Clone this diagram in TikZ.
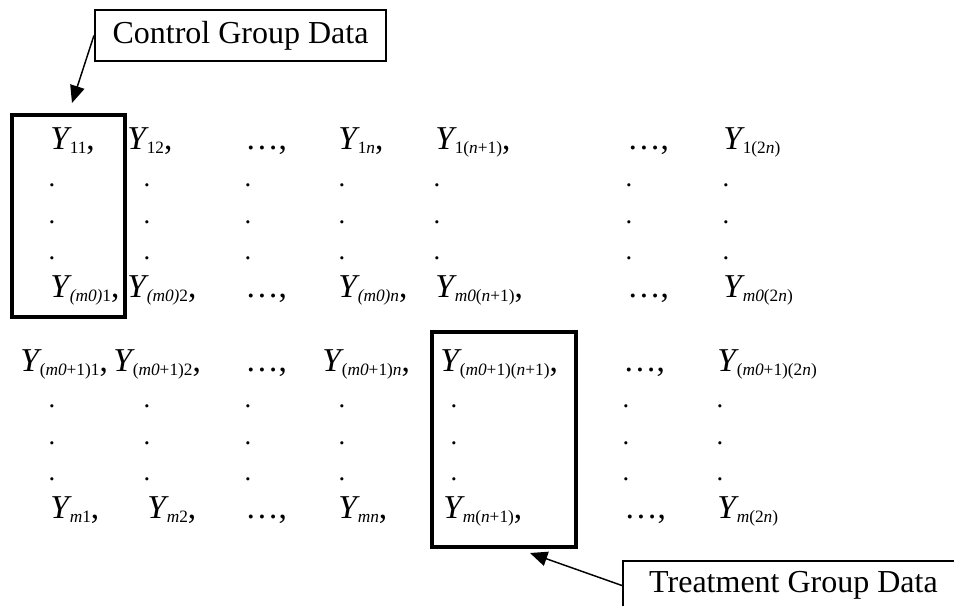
\documentclass[tikz,border=0pt]{standalone}
\usepackage{fontspec}
\setmainfont{Liberation Serif}
\usetikzlibrary{arrows.meta}
\newcommand{\Yv}[1]{\textit{Y}\kern-1.5pt\raisebox{-3pt}{\fontsize{13}{13}\selectfont #1}}
\newcommand{\ii}[1]{\textit{#1}}
\tikzset{
  ent/.style={inner sep=0pt, anchor=base west, font=\fontsize{25}{25}\selectfont},
  dotn/.style={inner sep=0pt, anchor=base, font=\fontsize{20}{20}\selectfont},
  lbl/.style={draw, line width=1.6pt, inner sep=0pt, font=\fontsize{24}{24}\selectfont},
  grpbox/.style={draw, line width=2.5pt, inner sep=0pt},
  pointer/.style={line width=1.1pt, -{Triangle[length=13pt,width=11pt]}}
}
\begin{document}
\begin{tikzpicture}[x=0.75pt,y=-0.75pt]
\useasboundingbox (0,0) rectangle (954,606);
\clip (0,0) rectangle (954,606);
% labels
\node[lbl, minimum width=218.25pt, minimum height=38.25pt] (ctrl) at (240.5,35.5) {Control Group Data};
\node[lbl, minimum width=255.75pt, minimum height=36.75pt] (treat) at (793.5,585.5) {Treatment Group Data};
% group boxes
\node[grpbox, minimum width=84.75pt, minimum height=151.5pt] (cbox) at (68.5,216) {};
\node[grpbox, minimum width=108pt, minimum height=161.25pt] (tbox) at (504,439.5) {};
% row 1
\node[ent] (a1) at (50,150) {\Yv{11},};
\node[ent] (a2) at (127,150) {\Yv{12},};
\node[ent] (a3) at (245,150) {\dots,};
\node[ent] (a4) at (338,150) {\Yv{1\ii{n}},};
\node[ent] (a5) at (435,150) {\Yv{1(\ii{n}+1)},};
\node[ent] (a6) at (627,150) {\dots,};
\node[ent] (a7) at (723,150) {\Yv{1(2\ii{n})}};
% row 5
\node[ent] (b1) at (50,297) {\Yv{\ii{(m0)}1},};
\node[ent] (b2) at (127,297) {\Yv{\ii{(m0)}2},};
\node[ent] (b3) at (245,297) {\dots,};
\node[ent] (b4) at (338,297) {\Yv{\ii{(m0)n}},};
\node[ent] (b5) at (435,297) {\Yv{\ii{m0}(\ii{n}+1)},};
\node[ent] (b6) at (627,297) {\dots,};
\node[ent] (b7) at (723,297) {\Yv{\ii{m0}(2\ii{n})}};
% row 6
\node[ent] (c1) at (20,371) {\Yv{(\ii{m0}+1)1},};
\node[ent] (c2) at (113,371) {\Yv{(\ii{m0}+1)2},};
\node[ent] (c3) at (245,371) {\dots,};
\node[ent] (c4) at (322,371) {\Yv{(\ii{m0}+1)\ii{n}},};
\node[ent] (c5) at (440,371) {\Yv{(\ii{m0}+1)(\ii{n}+1)},};
\node[ent] (c6) at (623,371) {\dots,};
\node[ent] (c7) at (717,371) {\Yv{(\ii{m0}+1)(2\ii{n})}};
% row 10
\node[ent] (e1) at (50,518) {\Yv{\ii{m}1},};
\node[ent] (e2) at (147,518) {\Yv{\ii{m}2},};
\node[ent] (e3) at (245,518) {\dots,};
\node[ent] (e4) at (338,518) {\Yv{\ii{mn}},};
\node[ent] (e5) at (443,518) {\Yv{\ii{m}(\ii{n}+1)},};
\node[ent] (e6) at (624,518) {\dots,};
\node[ent] (e7) at (717,518) {\Yv{\ii{m}(2\ii{n})}};
% vertical dots
\foreach \xx [count=\c] in {52,147,248,342,437,629,726}
  \foreach \yy [count=\r] in {187,224,260}
    \node[dotn] (u\r\c) at (\xx,\yy) {.};
\foreach \xx [count=\c] in {52,147,248,342,454,626,720}
  \foreach \yy [count=\r] in {407,444,480}
    \node[dotn] (l\r\c) at (\xx,\yy) {.};
% pointers
\coordinate (ctip) at (72,103);
\coordinate (ttip) at (530,553);
\draw[pointer] (ctrl.west) -- (ctip);
\draw[pointer] (treat.west) -- (ttip);
\end{tikzpicture}
\end{document}
